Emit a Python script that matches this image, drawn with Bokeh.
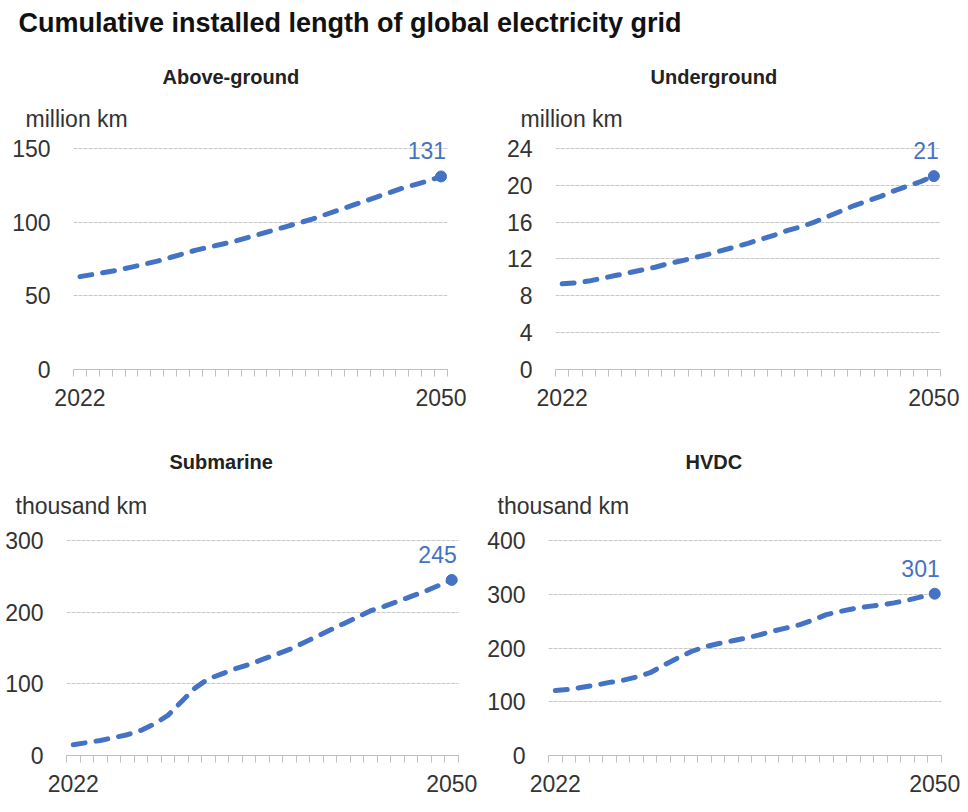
from bokeh.plotting import figure
from bokeh.models import Range1d, FixedTicker, Title, Label
from bokeh.layouts import column, row
from bokeh.embed import file_html
from bokeh.resources import INLINE

# ---------------- data ----------------
years = list(range(2022, 2051))

above_ground = [63, 64.5, 66, 67.5, 69.5, 71.5, 73.5, 76, 78.5, 81, 83, 85, 87, 89.5,
                92, 94.5, 97, 99.5, 102, 105, 108, 111, 114, 117, 120, 123, 125.5, 128, 131]
underground = [9.3, 9.4, 9.6, 9.9, 10.2, 10.5, 10.8, 11.1, 11.5, 11.8, 12.15, 12.5, 12.9,
               13.3, 13.7, 14.15, 14.6, 15.1, 15.5, 16.0, 16.6, 17.2, 17.8, 18.3, 18.8,
               19.4, 19.9, 20.4, 21.0]
submarine = [15, 18, 21, 25, 29, 35, 44, 56, 75, 94, 107, 114, 121, 127, 134, 141, 148,
             157, 166, 175, 184, 193, 202, 208, 215, 222, 229, 237, 245]
hvdc = [121, 123, 127, 131, 136, 140, 146, 154, 168, 181, 193, 202, 208, 213, 218, 224,
        231, 237, 243, 252, 262, 268, 273, 277, 280, 284, 289, 295, 301]

main_title = "Cumulative installed length of global electricity grid"
panel_titles = ["Above-ground", "Underground", "Submarine", "HVDC"]
unit_labels = ["million km", "million km", "thousand km", "thousand km"]
y_ticks = [[0, 50, 100, 150],
           [0, 4, 8, 12, 16, 20, 24],
           [0, 100, 200, 300],
           [0, 100, 200, 300, 400]]
x_tick_labels = [2022, 2050]

BLUE = "#4472C4"
TXT = "#333333"
FONT = "Liberation Sans"
PAD = 14  # extra frame space above the top gridline (room for the end label)


def make_panel(vals, sub, unit, ticks, width, left, fw, top, fh, bottom,
               sub_off, unit_off, unit_standoff, sub_standoff):
    height = top + fh + bottom
    span = ticks[-1] - ticks[0]
    y_end = ticks[-1] + PAD * span / fh
    p = figure(width=width, height=height, toolbar_location=None, output_backend="svg",
               x_range=Range1d(years[0] - 0.5, years[-1] + 0.5),
               y_range=Range1d(ticks[0], y_end),
               min_border_left=left, min_border_right=width - left - fw,
               min_border_top=top - PAD, min_border_bottom=bottom)
    p.outline_line_color = None
    p.background_fill_color = "white"
    p.border_fill_color = "white"

    # titles above the frame
    p.add_layout(Title(text=unit, align="left", offset=unit_off, text_font=FONT,
                       text_font_size="23px", text_font_style="normal",
                       text_color=TXT, standoff=unit_standoff), "above")
    p.add_layout(Title(text=sub, align="left", offset=sub_off, text_font=FONT,
                       text_font_size="20px", text_font_style="bold",
                       text_color="#222222", standoff=sub_standoff), "above")

    # series
    p.line(years, vals, line_color=BLUE, line_width=5, line_dash="12 11",
           line_cap="round")
    p.scatter([years[-1]], [vals[-1]], size=11, color=BLUE)
    p.add_layout(Label(x=years[-1], y=vals[-1], text=str(round(vals[-1])),
                       x_offset=5, y_offset=17, text_align="right",
                       text_baseline="bottom", text_font=FONT,
                       text_font_size="23px", text_color=BLUE))

    # y axis
    p.yaxis.ticker = FixedTicker(ticks=ticks)
    p.yaxis.axis_line_color = None
    p.yaxis.major_tick_line_color = None
    p.yaxis.minor_tick_line_color = None
    p.yaxis.major_label_standoff = 17
    p.yaxis.major_label_text_font = FONT
    p.yaxis.major_label_text_font_size = "23px"
    p.yaxis.major_label_text_color = TXT

    # x axis (category style: ticks between years)
    bounds = [y - 0.5 for y in years] + [years[-1] + 0.5]
    p.xaxis.ticker = FixedTicker(ticks=x_tick_labels, minor_ticks=bounds)
    p.xaxis.axis_line_color = "#bfbfbf"
    p.xaxis.major_tick_line_color = None
    p.xaxis.minor_tick_line_color = "#bfbfbf"
    p.xaxis.minor_tick_in = 0
    p.xaxis.minor_tick_out = 7
    p.xaxis.major_tick_out = 0
    p.xaxis.major_tick_in = 0
    p.xaxis.major_label_standoff = 12
    p.xaxis.major_label_text_font = FONT
    p.xaxis.major_label_text_font_size = "23px"
    p.xaxis.major_label_text_color = TXT

    p.xgrid.grid_line_color = None
    p.ygrid.grid_line_color = "#c8c8c8"
    p.ygrid.grid_line_dash = "4 1"
    p.ygrid.grid_line_width = 1
    return p


tl = make_panel(above_ground, panel_titles[0], unit_labels[0], y_ticks[0],
                484, 73, 374, 97, 222, 44, 89, -48, 6, 26)
tr = make_panel(underground, panel_titles[1], unit_labels[1], y_ticks[1],
                476, 71, 385, 97, 222, 44, 95, -35, 6, 26)
bl = make_panel(submarine, panel_titles[2], unit_labels[2], y_ticks[2],
                484, 66, 392, 127, 215, 44, 103, -51, 15, 21)
br = make_panel(hvdc, panel_titles[3], unit_labels[3], y_ticks[3],
                476, 64, 393, 127, 215, 44, 137, -51, 15, 21)

head = figure(width=960, height=50, toolbar_location=None, output_backend="svg",
              min_border_left=0, min_border_right=0, min_border_top=0, min_border_bottom=0)
head.title.text = main_title
head.title.text_font = FONT
head.title.text_font_size = "27px"
head.title.text_font_style = "bold"
head.title.text_color = "#111111"
head.title.align = "left"
head.title.offset = 18
head.xaxis.visible = False
head.yaxis.visible = False
head.xgrid.visible = False
head.ygrid.visible = False
head.outline_line_color = None

layout = column(head, row(tl, tr), row(bl, br))

open("out.html", "w").write(file_html(layout, INLINE))
